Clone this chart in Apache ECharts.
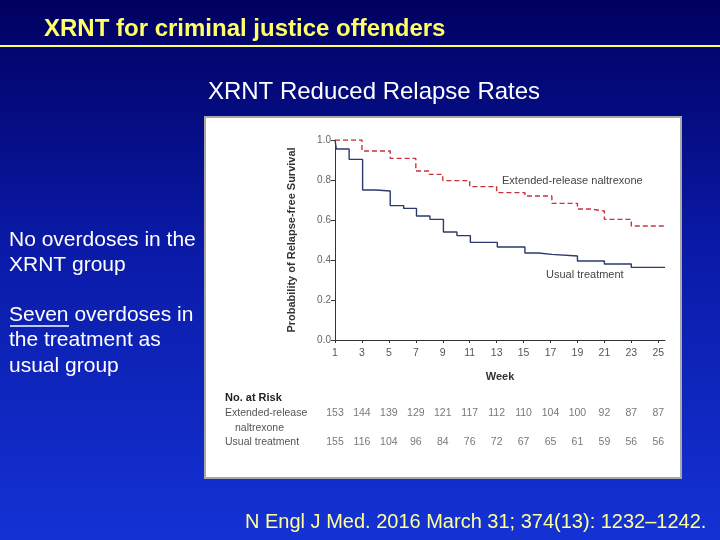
<!DOCTYPE html>
<html>
<head>
<meta charset="utf-8">
<script src="https://cdn.jsdelivr.net/npm/echarts@6/dist/echarts.min.js"></script>
<style>
  html, body { margin: 0; padding: 0; }
  #main { width: 720px; height: 540px; }
</style>
</head>
<body>
<div id="main"></div>
<script>
// Kaplan-Meier steps (week, probability)
var xrWeeks = [1, 3, 5.1, 7, 8, 9, 11, 13, 15.1, 17.1, 19, 20, 21, 23, 25.5];
var xrSurv = [1.0, 0.945, 0.908, 0.845, 0.828, 0.797, 0.767, 0.737, 0.72, 0.683, 0.655, 0.645, 0.603, 0.57, 0.57];
var utWeeks = [1, 1.1, 2.05, 3.05, 4.05, 5.1, 6.1, 7.05, 8.05, 9.05, 10.05, 11.05, 13.05, 15.1, 16.1, 17.1, 19, 21, 23, 25.5];
var utSurv = [1.0, 0.955, 0.903, 0.75, 0.745, 0.672, 0.658, 0.62, 0.603, 0.54, 0.522, 0.488, 0.465, 0.435, 0.428, 0.42, 0.395, 0.38, 0.363, 0.363];

// number at risk table
var riskWeeks = [1, 3, 5, 7, 9, 11, 13, 15, 17, 19, 21, 23, 25];
var riskXr = [153, 144, 139, 129, 121, 117, 112, 110, 104, 100, 92, 87, 87];
var riskUt = [155, 116, 104, 96, 84, 76, 72, 67, 65, 61, 59, 56, 56];

var weekTicks = [1, 3, 5, 7, 9, 11, 13, 15, 17, 19, 21, 23, 25];

function pairs(xs, ys) {
    return xs.map(function (x, i) { return [x, ys[i]]; });
}

var chartDom = document.getElementById('main');
var myChart = echarts.init(chartDom, null, { renderer: 'canvas' });
var sans = 'Liberation Sans, Arial, sans-serif';
var option;
option = {
    backgroundColor: {
        type: 'linear', x: 0, y: 0, x2: 0, y2: 1,
        colorStops: [
            { offset: 0, color: '#000060' },
            { offset: 0.45, color: '#0a1aa6' },
            { offset: 1, color: '#1432d4' }
        ]
    },
    animation: false,
    graphic: [
        { type: 'rect', z: -1, shape: { x: 205, y: 117, width: 476, height: 361 },
          style: { fill: '#ffffff', stroke: '#a8a8a8', lineWidth: 2 } },
        { type: 'text', x: 44, y: 29,
          style: { text: 'XRNT for criminal justice offenders', fill: '#ffff66',
                   font: 'bold 24px ' + sans, verticalAlign: 'middle' } },
        { type: 'line', shape: { x1: 0, y1: 46, x2: 720, y2: 46 },
          style: { stroke: '#ffff66', lineWidth: 2 } },
        { type: 'text', x: 374, y: 92,
          style: { text: 'XRNT Reduced Relapse Rates', fill: '#ffffff', font: '24px ' + sans,
                   align: 'center', verticalAlign: 'middle' } },
        { type: 'text', x: 9, y: 227,
          style: { text: 'No overdoses in the\nXRNT group', fill: '#ffffff',
                   font: '21px ' + sans, lineHeight: 25.5 } },
        { type: 'text', x: 9, y: 302,
          style: { text: 'Seven overdoses in\nthe treatment as\nusual group', fill: '#ffffff',
                   font: '21px ' + sans, lineHeight: 25.5 } },
        { type: 'line', shape: { x1: 10, y1: 326, x2: 69, y2: 326 },
          style: { stroke: '#ffffff', lineWidth: 1.5 } },
        { type: 'text', x: 245, y: 522,
          style: { text: 'N Engl J Med. 2016 March 31; 374(13): 1232\u20131242.', fill: '#ffff99',
                   font: '20px ' + sans, verticalAlign: 'middle' } },
        { type: 'text', x: 502, y: 181,
          style: { text: 'Extended-release naltrexone', fill: '#444', font: '11px ' + sans,
                   verticalAlign: 'middle' } },
        { type: 'text', x: 546, y: 275,
          style: { text: 'Usual treatment', fill: '#444', font: '11px ' + sans,
                   verticalAlign: 'middle' } },
        { type: 'text', x: 225, y: 398,
          style: { text: 'No. at Risk', fill: '#222', font: 'bold 11px ' + sans,
                   verticalAlign: 'middle' } },
        { type: 'text', x: 225, y: 413,
          style: { text: 'Extended-release', fill: '#555', font: '10.5px ' + sans,
                   verticalAlign: 'middle' } },
        { type: 'text', x: 235, y: 428,
          style: { text: 'naltrexone', fill: '#555', font: '10.5px ' + sans,
                   verticalAlign: 'middle' } },
        { type: 'text', x: 225, y: 442,
          style: { text: 'Usual treatment', fill: '#555', font: '10.5px ' + sans,
                   verticalAlign: 'middle' } }
    ],
    grid: [
        { left: 335, right: 55, top: 140, bottom: 200 },
        { left: 335, right: 55, top: 413, bottom: 98 }
    ],
    xAxis: [
        {
            type: 'value', gridIndex: 0, min: 1, max: 25.5,
            name: 'Week', nameLocation: 'middle', nameGap: 31,
            nameTextStyle: { color: '#333', fontFamily: sans, fontWeight: 'bold', fontSize: 11 },
            axisLine: { lineStyle: { color: '#333' } },
            axisTick: { length: 3, lineStyle: { color: '#333' }, customValues: weekTicks },
            axisLabel: { color: '#555', fontFamily: sans, fontSize: 10.5, margin: 8, customValues: weekTicks },
            splitLine: { show: false }
        },
        {
            type: 'value', gridIndex: 1, min: 1, max: 25.5, show: false
        }
    ],
    yAxis: [
        {
            type: 'value', gridIndex: 0, min: 0, max: 1, interval: 0.2,
            name: 'Probability of Relapse-free Survival', nameLocation: 'middle', nameGap: 38,
            nameTextStyle: { color: '#333', fontFamily: sans, fontWeight: 'bold', fontSize: 11 },
            axisLine: { show: true, lineStyle: { color: '#333' } },
            axisTick: { show: true, length: 4, lineStyle: { color: '#333' } },
            axisLabel: { color: '#666', fontFamily: sans, fontSize: 10, margin: 4,
                         formatter: function (v) { return v.toFixed(1); } },
            splitLine: { show: false }
        },
        {
            type: 'value', gridIndex: 1, min: 0, max: 1, show: false
        }
    ],
    series: [
        {
            name: 'Extended-release naltrexone', type: 'line', step: 'end',
            xAxisIndex: 0, yAxisIndex: 0, showSymbol: false,
            lineStyle: { color: '#c8323c', width: 1.4, type: [5, 3] },
            data: pairs(xrWeeks, xrSurv), z: 3
        },
        {
            name: 'Usual treatment', type: 'line', step: 'end',
            xAxisIndex: 0, yAxisIndex: 0, showSymbol: false,
            lineStyle: { color: '#2b3a6b', width: 1.4 },
            data: pairs(utWeeks, utSurv), z: 2
        },
        {
            type: 'scatter', xAxisIndex: 1, yAxisIndex: 1, symbolSize: 0,
            label: { show: true, position: 'inside', color: '#555', fontFamily: sans, fontSize: 10.5,
                     formatter: function (p) { return p.value[2]; } },
            data: riskWeeks.map(function (w, i) { return [w, 1, riskXr[i]]; })
        },
        {
            type: 'scatter', xAxisIndex: 1, yAxisIndex: 1, symbolSize: 0,
            label: { show: true, position: 'inside', color: '#555', fontFamily: sans, fontSize: 10.5,
                     formatter: function (p) { return p.value[2]; } },
            data: riskWeeks.map(function (w, i) { return [w, 0, riskUt[i]]; })
        }
    ]
};
option && myChart.setOption(option);
</script>
</body>
</html>
